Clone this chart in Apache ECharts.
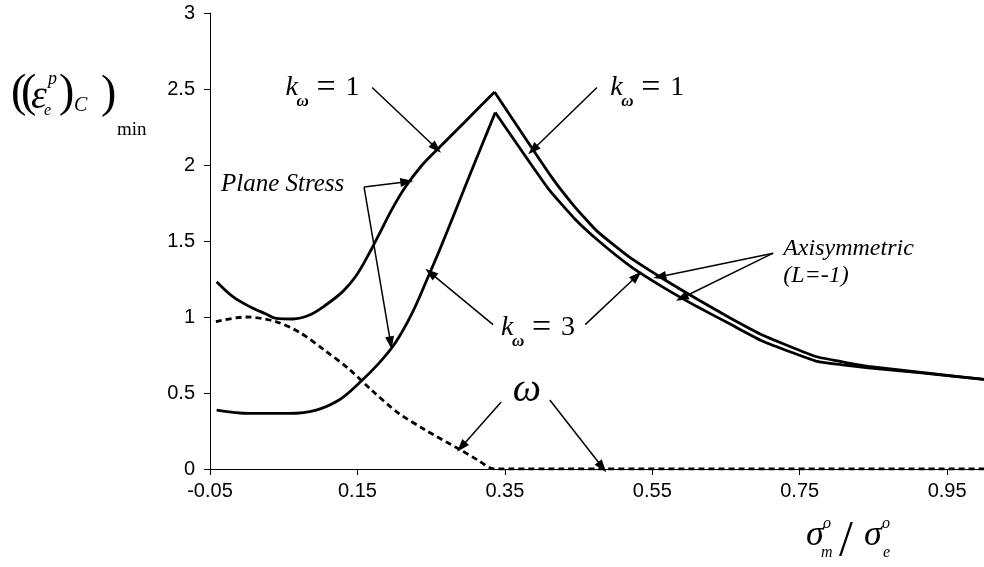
<!DOCTYPE html>
<html>
<head>
<meta charset="utf-8">
<script src="https://cdn.jsdelivr.net/npm/echarts@6/dist/echarts.min.js"></script>
<style>
  html, body { margin: 0; padding: 0; background: #fff; }
  #chart { width: 984px; height: 567px; }
</style>
</head>
<body>
<div id="chart"></div>
<script>
// Tick positions
const xTicks = [-0.05, 0.15, 0.35, 0.55, 0.75, 0.95];
const yTicks = [0, 0.5, 1, 1.5, 2, 2.5, 3];

// k_omega = 1: plane stress branch up to the peak, axisymmetric branch after it
const kw1X = [-0.041, -0.019, 0.004, 0.026, 0.040, 0.062, 0.085, 0.107, 0.130, 0.148, 0.165, 0.179, 0.197, 0.215, 0.237, 0.260, 0.296, 0.336,
              0.412, 0.444, 0.475, 0.520, 0.565, 0.610, 0.655, 0.700, 0.772, 0.808, 0.843, 0.915, 1.000];
const kw1Y = [1.232, 1.134, 1.068, 1.020, 0.991, 0.987, 1.013, 1.079, 1.167, 1.270, 1.410, 1.540, 1.710, 1.855, 1.995, 2.110, 2.285, 2.480,
              1.930, 1.730, 1.565, 1.390, 1.250, 1.120, 0.995, 0.880, 0.740, 0.705, 0.675, 0.635, 0.590];

// k_omega = 3
const kw3X = [-0.041, 0.004, 0.058, 0.094, 0.125, 0.152, 0.179, 0.201, 0.224, 0.246, 0.264, 0.296, 0.318, 0.337,
              0.408, 0.444, 0.475, 0.520, 0.565, 0.610, 0.655, 0.700, 0.772, 0.808, 0.843, 0.915, 1.000];
const kw3Y = [0.388, 0.366, 0.366, 0.388, 0.454, 0.564, 0.695, 0.827, 1.024, 1.265, 1.470, 1.857, 2.120, 2.345,
              1.850, 1.650, 1.510, 1.335, 1.195, 1.070, 0.955, 0.840, 0.710, 0.685, 0.665, 0.632, 0.590];

// omega (dashed)
const omegaX = [-0.042, -0.001, 0.039, 0.071, 0.106, 0.138, 0.169, 0.205, 0.241, 0.290, 0.313, 0.336, 1.000];
const omegaY = [0.97, 1.00, 0.97, 0.90, 0.78, 0.66, 0.52, 0.37, 0.26, 0.125, 0.06, 0.0, 0.0];

// Annotation arrows: [from, to] in data units
const arrows = [
  [[0.170, 2.51], [0.257, 2.11]],
  [[0.475, 2.51], [0.388, 2.10]],
  [[0.334, 0.95], [0.249, 1.29]],
  [[0.459, 0.95], [0.529, 1.27]],
  [[0.159, 1.855], [0.217, 1.89]],
  [[0.159, 1.855], [0.195, 0.83]],
  [[0.714, 1.42], [0.560, 1.265]],
  [[0.714, 1.42], [0.590, 1.125]],
  [[0.345, 0.44], [0.291, 0.145]],
  [[0.411, 0.454], [0.482, 0.013]]
];

const SERIF = '"Liberation Serif", "Times New Roman", serif';
const SANS = '"Liberation Sans", Arial, sans-serif';

const pairs = (xs, ys) => xs.map((x, i) => [x, ys[i]]);

// Split a curve at its peak: rising part drawn smoothed, falling part drawn nearly straight
function splitAtPeak(xs, ys) {
  let k = 0;
  ys.forEach((v, i) => { if (v > ys[k]) k = i; });
  const all = pairs(xs, ys);
  return [all.slice(0, k + 1), all.slice(k)];
}

const chart = echarts.init(document.getElementById('chart'), null, { renderer: 'canvas' });

const curveStyle = { color: '#000', width: 2.8 };
const [kw1Up, kw1Down] = splitAtPeak(kw1X, kw1Y);
const [kw3Up, kw3Down] = splitAtPeak(kw3X, kw3Y);

const curve = (name, data, smooth) => ({
  name: name, type: 'line', data: data, symbol: 'none', smooth: smooth,
  lineStyle: curveStyle, z: 3, silent: true
});

chart.setOption({
  animation: false,
  backgroundColor: '#fff',
  grid: { left: 210, right: -5, top: 13, bottom: 98, containLabel: false },
  xAxis: {
    type: 'value', min: -0.05, max: 1.0,
    axisLine: { onZero: false, lineStyle: { color: '#000', width: 1 } },
    axisTick: { show: true, length: 6, customValues: xTicks, lineStyle: { color: '#000', width: 1 } },
    axisLabel: { customValues: xTicks, formatter: v => v.toFixed(2), color: '#000', fontFamily: SANS, fontSize: 20, margin: 12 },
    splitLine: { show: false }
  },
  yAxis: {
    type: 'value', min: 0, max: 3, interval: 0.5,
    axisLine: { show: true, onZero: false, lineStyle: { color: '#000', width: 1 } },
    axisTick: { show: true, length: 6, lineStyle: { color: '#000', width: 1 } },
    axisLabel: { formatter: v => String(v), color: '#000', fontFamily: SANS, fontSize: 20, margin: 15 },
    splitLine: { show: false }
  },
  series: [
    curve('kw1-rise', kw1Up, 0.35),
    curve('kw1-fall', kw1Down, 0.15),
    curve('kw3-rise', kw3Up, 0.35),
    curve('kw3-fall', kw3Down, 0.15),
    {
      name: 'omega', type: 'line', data: pairs(omegaX, omegaY), symbol: 'none', smooth: 0.3, z: 4, silent: true,
      lineStyle: { color: '#000', width: 2.8, type: [6, 4] },
      markLine: {
        silent: true, animation: false,
        symbol: ['none', 'triangle'], symbolSize: [9, 13],
        label: { show: false },
        lineStyle: { color: '#000', width: 1.5, type: 'solid' },
        emphasis: { disabled: true },
        data: arrows.map(a => [{ coord: a[0] }, { coord: a[1] }])
      }
    }
  ]
});

// Text annotations, anchored in data units (left edge, baseline)
const toPx = (x, y) => chart.convertToPixel({ gridIndex: 0 }, [x, y]);
const txt = (x, y, text, font, align) => ({
  type: 'text', x: x, y: y, silent: true, z: 20,
  style: { text: text, font: font, fill: '#000', align: align || 'left', verticalAlign: 'middle' }
});

function kLabel(pos, digit) {
  const [ax, ay] = toPx(pos[0], pos[1]);
  return [
    txt(ax, ay - 9, 'k', 'italic 28px ' + SERIF),
    txt(ax + 11, ay + 5, 'ω', 'italic bold 17px ' + SERIF),
    txt(ax + 31, ay - 9, '=', '34px ' + SERIF),
    txt(ax + 60, ay - 9, digit, '28px ' + SERIF)
  ];
}

function anchored(pos, text, font, size, align) {
  const [ax, ay] = toPx(pos[0], pos[1]);
  return txt(ax, ay - size * 0.33, text, font, align);
}

const elements = [].concat(
  kLabel([0.0524, 2.447], '1'),
  kLabel([0.4931, 2.447], '1'),
  kLabel([0.3449, 0.868], '3'),
  [
    anchored([-0.0352, 1.816], 'Plane Stress', 'italic 25px ' + SERIF, 25),
    anchored([0.7276, 1.395], 'Axisymmetric', 'italic 24px ' + SERIF, 24),
    anchored([0.7276, 1.217], '(L=-1)', 'italic 24px ' + SERIF, 24),
    anchored([0.380, 0.43], 'ω', 'italic 40px ' + SERIF, 40, 'center')
  ],
  // y-axis title: ((ε_e^p)_C)_min
  [
    txt(11, 94, '(', '46px ' + SERIF),
    txt(21, 94, '(', '46px ' + SERIF),
    txt(31, 97, 'ε', 'italic 40px ' + SERIF),
    txt(48, 79, 'p', 'italic 18px ' + SERIF),
    txt(44, 111, 'e', 'italic 16px ' + SERIF),
    txt(59, 94, ')', '46px ' + SERIF),
    txt(74, 106, 'C', 'italic 20px ' + SERIF),
    txt(101, 95, ')', '46px ' + SERIF),
    txt(117, 130, 'min', '19px ' + SERIF)
  ],
  // x-axis title: σ_m^o / σ_e^o
  [
    txt(806, 536, 'σ', 'italic 36px ' + SERIF),
    txt(823, 524, 'o', 'italic 16px ' + SERIF),
    txt(821, 553, 'm', 'italic 16px ' + SERIF),
    txt(839, 542, '/', '50px ' + SERIF),
    txt(864, 536, 'σ', 'italic 36px ' + SERIF),
    txt(882, 524, 'o', 'italic 16px ' + SERIF),
    txt(883, 553, 'e', 'italic 16px ' + SERIF)
  ]
);

chart.setOption({ graphic: { elements: elements } });
</script>
</body>
</html>
